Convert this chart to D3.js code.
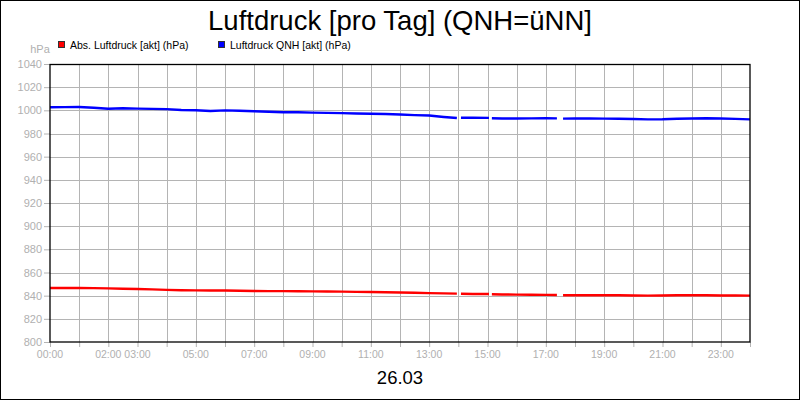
<!DOCTYPE html>
<html><head><meta charset="utf-8">
<script src="https://cdn.jsdelivr.net/npm/d3@7"></script>
<style>body{margin:0;background:#fff}svg{display:block;font-family:"Liberation Sans",Arial,sans-serif}</style>
</head><body>
<svg id="c" width="800" height="400"></svg>
<script>
// time in hours of 26.03; null = gap in recording
const hours = [0,0.5,1,1.5,2,2.5,3,3.5,4,4.5,5,5.5,6,6.5,7,7.5,8,8.5,9,9.5,10,10.5,11,11.5,12,12.5,13,13.5,13.95,14.02,14.09,14.5,15.05,15.1,15.15,15.5,16,16.5,17,17.38,17.48,17.59,18,18.5,19,19.5,20,20.5,21,21.5,22,22.5,23,23.5,24];
const absDruck = [846.6,846.6,846.6,846.5,846.3,846.0,845.8,845.4,845.0,844.7,844.6,844.5,844.4,844.2,844.0,843.9,843.9,843.8,843.7,843.6,843.5,843.3,843.2,843.0,842.7,842.5,842.2,842.0,841.8,null,841.6,841.5,841.4,null,841.2,841.0,840.9,840.8,840.7,840.6,null,840.3,840.3,840.3,840.4,840.4,840.2,840.0,840.1,840.3,840.3,840.3,840.2,840.1,840.0];
const qnhDruck = [1002.6,1002.8,1002.9,1002.2,1001.4,1001.8,1001.5,1001.3,1001.0,1000.3,1000.1,999.4,1000.0,999.6,999.2,998.8,998.4,998.3,998.0,997.8,997.6,997.3,997.1,996.8,996.4,995.9,995.5,994.3,993.4,null,993.6,993.6,993.5,null,993.2,993.0,992.9,993.1,993.2,993.1,null,992.8,992.9,993.0,992.8,992.7,992.5,992.2,992.3,992.7,993.0,993.2,993.0,992.6,992.2];
const yTicks = [800,820,840,860,880,900,920,940,960,980,1000,1020,1040];
const xLabelHours = [0,2,3,5,7,9,11,13,15,17,19,21,23];
const seriesNames = ["Abs. Luftdruck [akt] (hPa)","Luftdruck QNH [akt] (hPa)"];
const seriesColors = ["#ff0000","#0000ff"];
const title = "Luftdruck [pro Tag] (QNH=üNN]";
const dateLabel = "26.03";
const unit = "hPa";

const svg = d3.select("#c");
const L=50,R=750,T=64,B=342;
const x = d3.scaleLinear().domain([0,24]).range([L,R]);
const y = d3.scaleLinear().domain([800,1040]).range([B,T]);
const grey="#b4b4b4", txtGrey="#b0b0b0";

svg.append("rect").attr("x",0.5).attr("y",0.5).attr("width",799).attr("height",399).attr("fill","#fff").attr("stroke","#000");

// grid
const hourTicks = d3.range(0,25);
svg.append("g").selectAll("line").data(hourTicks.slice(1,-1)).join("line")
  .attr("x1",d=>Math.round(x(d))+0.5).attr("x2",d=>Math.round(x(d))+0.5).attr("y1",T).attr("y2",B)
  .attr("stroke",grey).attr("stroke-width",1);
svg.append("g").selectAll("line").data(yTicks.slice(1,-1)).join("line")
  .attr("x1",L).attr("x2",R).attr("y1",d=>Math.round(y(d))+0.5).attr("y2",d=>Math.round(y(d))+0.5)
  .attr("stroke",grey).attr("stroke-width",1);

// y axis
const ya = svg.append("g").attr("transform",`translate(${L},0)`)
  .call(d3.axisLeft(y).tickValues(yTicks).tickSize(6).tickPadding(2).tickFormat(d3.format("d")));
ya.select(".domain").remove();
ya.selectAll("line").attr("stroke",grey);
ya.selectAll("text").attr("fill",txtGrey).attr("font-size",11).attr("font-family","Liberation Sans, Arial, sans-serif");

// x axis
const xa = svg.append("g").attr("transform",`translate(0,${B})`)
  .call(d3.axisBottom(x).tickValues(hourTicks).tickSize(5).tickFormat(""));
xa.select(".domain").remove();
xa.selectAll("line").attr("stroke",grey);
svg.append("g").selectAll("text").data(xLabelHours).join("text")
  .attr("x",d=>x(d)).attr("y",B+16).attr("text-anchor","middle")
  .attr("fill",txtGrey).attr("font-size",10.5)
  .text(d=>String(d).padStart(2,"0")+":00");

// lines
svg.append("clipPath").attr("id","pc").append("rect").attr("x",L).attr("y",T).attr("width",R-L).attr("height",B-T);
[absDruck,qnhDruck].forEach((vals,i)=>{
  const pts = hours.map((h,j)=>[h,vals[j]]);
  const line = d3.line().defined(d=>d[1]!=null).x(d=>x(d[0])).y(d=>y(d[1]));
  svg.append("path").datum(pts).attr("d",line).attr("fill","none")
    .attr("stroke",seriesColors[i]).attr("stroke-width",2.4).attr("stroke-linejoin","round")
    .attr("clip-path","url(#pc)");
});

// frame
svg.append("rect").attr("x",L).attr("y",T+0.5).attr("width",R-L).attr("height",B-T-0.5)
  .attr("fill","none").attr("stroke","#000").attr("stroke-width",1.3);

// unit
svg.append("text").attr("x",40).attr("y",53).attr("text-anchor","middle").attr("fill",txtGrey).attr("font-size",11).text(unit);

// legend
const legX=[58,218];
seriesNames.forEach((n,i)=>{
  svg.append("rect").attr("x",legX[i]+0.5).attr("y",41.5).attr("width",6).attr("height",6)
    .attr("fill",seriesColors[i]).attr("stroke","#333").attr("stroke-width",1);
  svg.append("text").attr("x",legX[i]+12).attr("y",48.5).attr("fill","#000").attr("font-size",10.5).text(n);
});

// title
svg.append("text").attr("x",400).attr("y",30).attr("text-anchor","middle").attr("font-size",27.5).attr("fill","#000").text(title);
svg.append("text").attr("x",400).attr("y",384).attr("text-anchor","middle").attr("font-size",18.5).attr("fill","#000").text(dateLabel);
</script>
</body></html>
